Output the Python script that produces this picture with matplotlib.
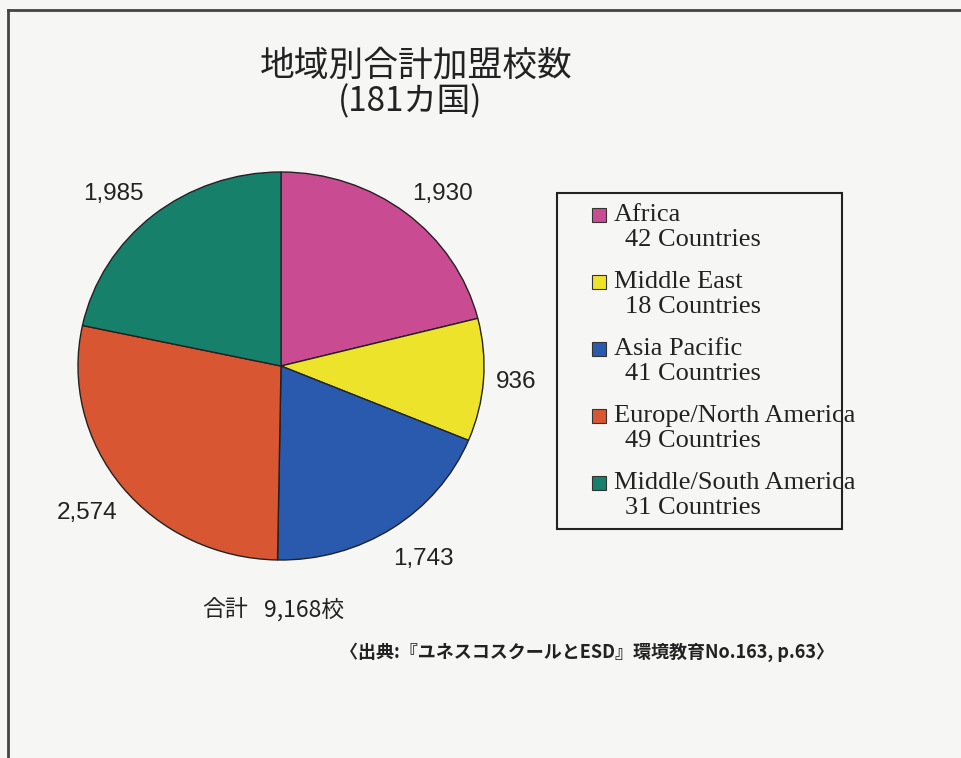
import numpy as np
import matplotlib
matplotlib.use('Agg')
import matplotlib.pyplot as plt
from matplotlib.patches import Rectangle
from matplotlib.lines import Line2D

plt.rcParams['font.family'] = ['Noto Sans CJK JP', 'DejaVu Sans']

# 地域別の加盟校数
regions = ['Africa', 'Middle East', 'Asia Pacific', 'Europe/North America', 'Middle/South America']
countries = [42, 18, 41, 49, 31]
schools = [1930, 936, 1743, 2574, 1985]
colors = ['#C94C92', '#EDE32A', '#2A5AAE', '#D85632', '#17806B']
title = '地域別合計加盟校数'
n_countries = 181
source = '〈出典:『ユネスコスクールとESD』環境教育No.163, p.63〉'

W, H = 962, 758
BG = '#f6f6f4'
fig = plt.figure(figsize=(W / 100, H / 100), dpi=100, facecolor=BG)


def fx(px):
    return px / W


def fy(py):
    return 1 - py / H


# 外枠 (左と上のみ見える)
fig.add_artist(Line2D([fx(8), fx(8)], [fy(10), 0], color='#444', lw=2))
fig.add_artist(Line2D([fx(8), 1], [fy(10), fy(10)], color='#444', lw=2))

# 円グラフ
cx, cy, rx, ry = 281, 366, 203, 194
ax = fig.add_axes([fx(cx - rx), fy(cy + ry), 2 * rx / W, 2 * ry / H])
wedges, _ = ax.pie(schools, colors=colors, startangle=90, counterclock=False,
                   wedgeprops=dict(edgecolor='#222', linewidth=1.0))
ax.set_aspect('auto')
ax.set_xlim(-1, 1)
ax.set_ylim(-1, 1)
ax.patch.set_visible(False)
for w in wedges:
    w.set_clip_on(False)

# ラベル位置: 半径と角度の微調整
label_r = [1.19, 1.16, 1.22, 1.22, 1.21]
label_dang = [-4, 0, 2, 0, 4]
for w, v, r, da in zip(wedges, schools, label_r, label_dang):
    ang = np.deg2rad((w.theta1 + w.theta2) / 2 + da)
    ax.text(r * np.cos(ang), r * np.sin(ang), f'{v:,}', ha='center', va='center',
            fontsize=17.5, family=['Liberation Sans'], color='#222', clip_on=False)

# タイトル
fig.text(fx(416), fy(66), title, fontsize=25, ha='center', va='center', color='#222')
fig.text(fx(410), fy(102), f'({n_countries}カ国)', fontsize=24, ha='center', va='center', color='#222')

# 凡例
fig.add_artist(Rectangle((fx(557), fy(529)), fx(842) - fx(557), (529 - 193) / H,
                         transform=fig.transFigure, fill=False, edgecolor='#222', lw=1.5))
for i, (name, n, c) in enumerate(zip(regions, countries, colors)):
    y1 = 215 + i * 67
    y2 = y1 + 25
    fig.add_artist(Rectangle((fx(592), fy(y1 + 7)), 14 / W, 14 / H, transform=fig.transFigure,
                             facecolor=c, edgecolor='#333', lw=0.8))
    fig.text(fx(614), fy(y1), name, fontsize=19, family=['Liberation Serif'],
             va='center', ha='left', color='#222')
    fig.text(fx(625), fy(y2), f'{n} Countries', fontsize=19, family=['Liberation Serif'],
             va='center', ha='left', color='#222')

# 合計と出典
fig.text(fx(202), fy(610), '合計', fontsize=16.5, va='center', color='#222')
fig.text(fx(264), fy(610), f'{sum(schools):,}校', fontsize=16.5, va='center', color='#222')
fig.text(fx(340), fy(652), source, fontsize=13, fontweight='bold', va='center', color='#222')

fig.savefig('out.png', dpi=100, facecolor=BG)
